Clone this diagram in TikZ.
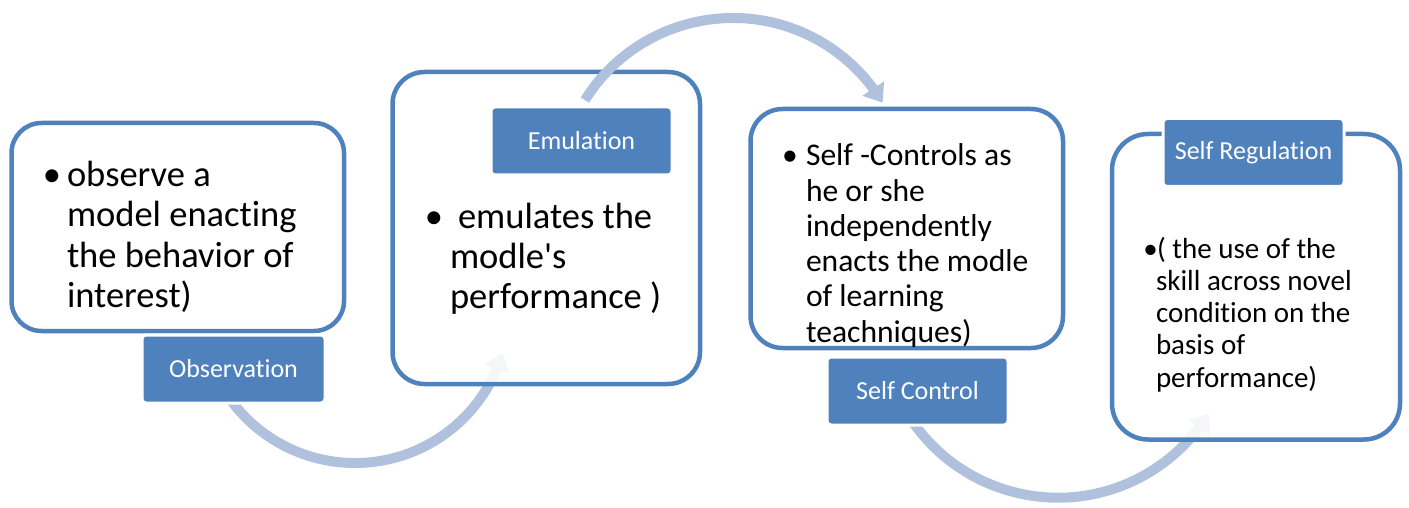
\documentclass[tikz,border=0pt]{standalone}
\usepackage{fontspec}
\setmainfont{Carlito}[Ligatures={NoCommon,NoContextual},RawFeature={-liga;-clig;-calt;-dlig}]
\usetikzlibrary{arrows.meta,bending,calc}
\definecolor{boxblue}{RGB}{79,129,189}
\definecolor{arrowblue}{RGB}{176,193,221}
\tikzset{
  box/.style={draw=boxblue, line width=4.5pt, fill=white, fill opacity=0.87, draw opacity=1},
  lab/.style={draw=white, line width=3pt, fill=boxblue, rounded corners=4pt, text=white,
    font=\fontsize{26}{30}\selectfont, inner sep=0pt, minimum height=68pt},
  flow/.style={draw=arrowblue, line width=10pt, -{Triangle[width=25pt,length=17pt]}},
  ln/.style={anchor=base west, inner sep=0pt, outer sep=0pt},
  bul/.style={anchor=base, inner sep=0pt, outer sep=0pt},
  bigtxt/.style={font=\fontsize{36.5}{40}\selectfont},
  midtxt/.style={font=\fontsize{31.6}{35}\selectfont},
  smltxt/.style={font=\fontsize{29}{32}\selectfont},
}
\begin{document}
\begin{tikzpicture}[x=1pt,y=1pt]
\useasboundingbox (0,0) rectangle (1409,-508);
% box 1
\draw[box, rounded corners=30pt] (11.5,-123) rectangle (344,-331);
% arrow 1
\coordinate (c1) at (355,-309);
\coordinate (a1s) at ($(c1)+(212:154)$);
\draw[flow] (a1s) arc[start angle=212, end angle=343.4, radius=154];
% box 2
\draw[box, rounded corners=32pt] (392.5,-72) rectangle (700,-384);
% arrow 2
\coordinate (c2) at (733,-192.6);
\coordinate (a2s) at ($(c2)+(148:174.6)$);
\draw[flow] (a2s) arc[start angle=148, end angle=31, radius=174.6];
% box 3
\draw[box, rounded corners=32pt] (750.5,-109) rectangle (1063,-348);
% arrow 3
\coordinate (c3) at (1058,-320.7);
\coordinate (a3s) at ($(c3)+(212:177)$);
\draw[flow] (a3s) arc[start angle=212, end angle=328.4, radius=177];
% box 4
\draw[box, rounded corners=36pt] (1112,-134) rectangle (1400,-439.5);

% labels
\node[lab, minimum width=183pt] (obs) at (233.5,-369) {Observation};
\node[lab, minimum width=181pt] (emu) at (581.5,-141) {Emulation};
\node[lab, minimum width=181pt] (sc) at (917.5,-391) {Self Control};
\node[lab, minimum width=181pt] (sr) at (1253.5,-152.5) {Self Regulation};

% box 1 text
\node[bul, bigtxt] (b1) at (52,-186) {\textbullet};
\node[ln, bigtxt] (t1a) at (67,-186) {observe a};
\node[ln, bigtxt] (t1b) at (67,-226.5) {model enacting};
\node[ln, bigtxt] (t1c) at (67,-267) {the behavior of};
\node[ln, bigtxt] (t1d) at (67,-307) {interest)};
% box 2 text
\node[bul, bigtxt] (b2) at (434,-228) {\textbullet};
\node[ln, bigtxt] (t2a) at (458,-228) {emulates the};
\node[ln, bigtxt] (t2b) at (450,-268) {modle\textquotesingle s};
\node[ln, bigtxt] (t2c) at (450,-308) {performance )};
% box 3 text
\node[bul, midtxt] (b3) at (790,-166) {\textbullet};
\node[ln, midtxt] (t3a) at (806,-166) {Self -Controls as};
\node[ln, midtxt] (t3b) at (806,-201.2) {he or she};
\node[ln, midtxt] (t3c) at (806,-236.4) {independently};
\node[ln, midtxt] (t3d) at (806,-271.6) {enacts the modle};
\node[ln, midtxt] (t3e) at (806,-306.8) {of learning};
\node[ln, midtxt] (t3f) at (806,-342) {teachniques)};
% box 4 text
\node[bul, smltxt] (b4) at (1150.5,-258) {\textbullet};
\node[ln, smltxt] (t4a) at (1157,-258) {( the use of the};
\node[ln, smltxt] (t4b) at (1156,-290) {skill across novel};
\node[ln, smltxt] (t4c) at (1156,-322.3) {condition on the};
\node[ln, smltxt] (t4d) at (1156,-354.6) {basis of};
\node[ln, smltxt] (t4e) at (1156,-387) {performance)};
\end{tikzpicture}
\end{document}
